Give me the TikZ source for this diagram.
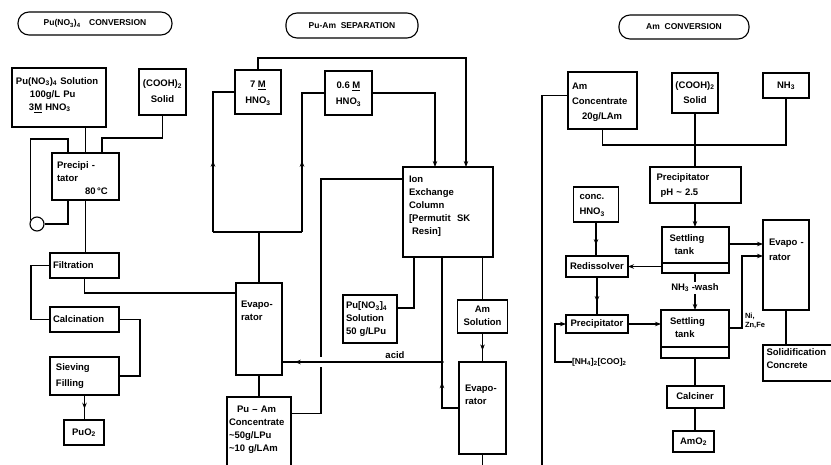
\documentclass[tikz,border=0pt]{standalone}
\usepackage{fontspec}
\setmainfont{Liberation Sans}
\usetikzlibrary{arrows.meta,decorations.markings,calc}
\newcommand{\ctxt}[2][0pt]{\raisebox{#1}[0pt][0pt]{\begin{tabular}[c]{@{}c@{}}#2\end{tabular}}}
\newcommand{\ltxt}[2][0pt]{\noindent\raisebox{#1}[0pt][0pt]{\begin{tabular}[c]{@{}l@{}}#2\end{tabular}}}
\tikzset{
 base/.style={font=\fontsize{9.5}{13}\selectfont\bfseries, inner sep=0pt, outer sep=0pt},
 bx/.style={base, draw, line width=1.1pt, rectangle},
 tbx/.style={base, draw, line width=2pt, rectangle},
 ln/.style={line width=1.05pt},
 arr/.style={ln, -{Stealth[length=6pt,width=4.5pt]}},
 marr/.style={ln, postaction={decorate}, decoration={markings, mark=at position #1 with {\arrow{Stealth[length=6pt,width=4.5pt]}}}},
 hdr/.style={draw, line width=1.1pt, rounded corners=11pt, inner sep=0pt, font=\fontsize{8.5}{10}\selectfont\bfseries},
}
\begin{document}
\begin{tikzpicture}[x=1pt,y=-1pt]
\useasboundingbox (0,0) rectangle (831,464);
\clip (0,0) rectangle (831,464);
% headers
\node[hdr, minimum width=154, minimum height=23] (hA) at (95,23.5) {Pu(NO\textsubscript{3})\textsubscript{4}\quad CONVERSION};
\node[hdr, minimum width=132, minimum height=25] (hB) at (352,25.5) {Pu-Am\ \ SEPARATION};
\node[hdr, minimum width=130, minimum height=24] (hC) at (684,27) {Am\ \ CONVERSION};
% left column
\node[bx, minimum width=94, minimum height=59, text width=86, align=left] (puS) at (59,97.5) {\ltxt[0.5pt]{Pu(NO\textsubscript{3})\textsubscript{4} Solution\\\hspace*{14pt}100g/L Pu\\\hspace*{13pt}3\underline{M} HNO\textsubscript{3}}};
\node[bx, minimum width=47, minimum height=46] (cooh1) at (162.5,92) {\ctxt[-2.5pt]{(COOH)\textsubscript{2}\\[3pt]Solid}};
\node[tbx, minimum width=67, minimum height=47, text width=57, align=left] (prec1) at (85.5,176.5) {\ltxt[-5pt]{Precipi -\\tator\\\hspace*{28pt}80\,°C}};
\node[draw, line width=1.1pt, circle, minimum size=14, inner sep=0pt] (pump) at (37,224) {};
\node[tbx, minimum width=69, minimum height=25, text width=63, align=left] (filt) at (84.5,265.5) {\ltxt[-2.5pt]{Filtration}};
\node[tbx, minimum width=69, minimum height=25, text width=63, align=left] (calc) at (84.5,319.5) {\ltxt[-2.5pt]{Calcination}};
\node[tbx, minimum width=69, minimum height=38, text width=57, align=left] (siev) at (84.5,376) {\ltxt[-2.5pt]{Sieving\\[3pt]Filling}};
\node[bx, minimum width=40, minimum height=25] (puo2) at (84,432.5) {\ctxt[-2.5pt]{PuO\textsubscript{2}}};
% middle column
\node[bx, minimum width=46, minimum height=44] (m7) at (258,92) {\ctxt[-3.5pt]{7 \underline{M}\\[3pt]HNO\textsubscript{3}}};
\node[bx, minimum width=47, minimum height=44] (m06) at (348.5,93) {\ctxt[-3.5pt]{0.6 \underline{M}\\[3pt]HNO\textsubscript{3}}};
\node[tbx, minimum width=46, minimum height=92, text width=36, align=left] (evap1) at (259,329) {\ltxt[15.5pt]{Evapo-\\rator}};
\node[bx, minimum width=64, minimum height=69, text width=60, align=left] (puam) at (259,431.5) {\ltxt[0pt]{\hspace*{8pt}Pu – Am\\Concentrate\\\textasciitilde 50g/LPu\\\textasciitilde 10 g/LAm}};
\node[tbx, minimum width=90, minimum height=90, text width=78, align=left] (ion) at (448,212) {\ltxt[3.5pt]{Ion\\Exchange\\Column\\{[}Permutit\ \ SK\\\hspace*{3pt}Resin]}};
\node[bx, minimum width=54, minimum height=48, text width=48, align=left] (pun) at (370,319) {\ltxt[-2.5pt]{Pu[NO\textsubscript{3}]\textsubscript{4}\\Solution\\50 g/LPu}};
\node[bx, minimum width=50, minimum height=33] (amsol) at (482.5,316.5) {\ctxt[-2.5pt]{Am\\Solution}};
\node[tbx, minimum width=47, minimum height=92, text width=35, align=left] (evap2) at (482.5,408) {\ltxt[10.5pt]{Evapo-\\rator}};
% right column
\node[bx, minimum width=69, minimum height=57, text width=61, align=left] (amc) at (602.5,100.5) {\ltxt[-4pt]{Am\\[2pt]Concentrate\\[2pt]\hspace*{10pt}20g/LAm}};
\node[bx, minimum width=46, minimum height=40] (cooh2) at (695,93) {\ctxt[-2.5pt]{(COOH)\textsubscript{2}\\[2pt]Solid}};
\node[bx, minimum width=46, minimum height=25] (nh3) at (786,85.5) {\ctxt[-2.5pt]{NH\textsubscript{3}}};
\node[tbx, minimum width=91, minimum height=36, text width=77, align=left] (precA) at (695,185) {\ltxt[-2.5pt]{Precipitator\\[2pt]\hspace*{4pt}pH \textasciitilde\ 2.5}};
\node[tbx, minimum width=67, minimum height=46, text width=51, align=left] (set1) at (695,250) {\ltxt[2pt]{Settling\\\hspace*{5pt}tank}};
\node[bx, minimum width=45, minimum height=35, text width=33, align=left] (conc) at (596,204.5) {\ltxt[-2.5pt]{conc.\\[2pt]HNO\textsubscript{3}}};
\node[tbx, minimum width=62, minimum height=21] (redis) at (597,266.5) {\ctxt[-2.5pt]{Redissolver}};
\node[tbx, minimum width=46, minimum height=90, text width=34, align=left] (evap3) at (786,265) {\ltxt[12.5pt]{Evapo -\\[2pt]rator}};
\node[tbx, minimum width=62, minimum height=18] (precB) at (597,324) {\ctxt[-2.5pt]{Precipitator}};
\node[tbx, minimum width=68, minimum height=48, text width=50, align=left] (set2) at (695,334) {\ltxt[3pt]{Settling\\\hspace*{5pt}tank}};
\node[tbx, minimum width=57, minimum height=22] (calcr) at (695,397) {\ctxt[-2.5pt]{Calciner}};
\node[bx, minimum width=41, minimum height=21] (amo2) at (693.5,441.5) {\ctxt[-2.5pt]{AmO\textsubscript{2}}};
\node[bx, minimum width=77, minimum height=36, text width=70, align=left] (solid) at (801.5,363) {\ltxt[1.5pt]{Solidification\\Concrete}};
% labels
\node[base] (acid) at (395,355) {acid};
\node[base, font=\fontsize{7.5}{9}\selectfont\bfseries, anchor=west, align=left] (nizn) at (745,321) {Ni,\\Zn,Fe};
\node[base, font=\fontsize{8.5}{10}\selectfont\bfseries, anchor=west] (nh4) at (572,362) {[NH\textsubscript{4}]\textsubscript{2}[COO]\textsubscript{2}};
% coordinates
\coordinate (sp) at ([yshift=51]evap1.north);
\coordinate (sl) at ($(sp)+(-46,0)$);
\coordinate (sr) at ($(sp)+(43,0)$);
\coordinate (tl) at ([yshift=12]m7.north);
\coordinate (xv) at (321,300);
\coordinate (jx) at ([xshift=-6]ion.south);
\coordinate (junc) at (jx |- evap2.north);
\coordinate (cr) at (xv |- junc);
\coordinate (offA) at (542,470);
\coordinate (mrg) at ([yshift=22]precA.north);
\coordinate (s1e) at ([yshift=6]set1.east);
% left connectors
\draw[ln] (prec1.north |- puS.south) -- (prec1.north);
\draw[ln] (cooh1.south) -- ++(0,23) -| ([xshift=16.5]prec1.north);
\draw[ln] ([xshift=-17.5]prec1.north) -- ++(0,-14) -| (pump.150);
\draw[ln] (pump.east) -| ([xshift=-17.5]prec1.south);
\draw[ln] (prec1.south) -- (prec1.south |- filt.north);
\draw[ln] (filt.west) -- ++(-19,0) |- (calc.west);
\draw[ln] (calc.east) -- ++(21,0) |- (siev.east);
\draw[marr=0.55] (siev.south) -- (siev.south |- puo2.north);
\draw[ln] (filt.south) |- ([yshift=36]evap1.west);
% middle connectors
\draw[ln] (evap1.north) -- (sp);
\draw[ln] (sl) -- (sr);
\draw[marr=0.44] (sl) |- (m7.west);
\draw[marr=0.44] (sr) |- (m06.west);
\draw[arr] (m7.north) -- (tl) -| ([xshift=18]ion.north);
\draw[arr] (m06.east) -| ([xshift=-13]ion.north);
\draw[ln] ([yshift=18]puam.east) -| (xv) |- ([yshift=33]ion.west);
\draw[ln] (evap1.south) -- (evap1.south |- puam.north);
\draw[ln] ([xshift=-34]ion.south) |- ([yshift=11]pun.east);
\draw[ln] (jx) -- (junc);
\draw[marr=0.68] (evap2.west) -| (junc);
\draw[white, line width=6pt] ([yshift=5]cr) -- ([yshift=-5]cr);
\draw[marr=0.92] (junc) -- (junc -| evap1.east);
\fill (junc) circle[radius=1.8pt];
\draw[ln] (amsol.north |- ion.south) -- (amsol.north);
\draw[marr=0.6] (amsol.south) -- (evap2.north);
\draw[ln] (evap2.south) -- ++(0,15);
% right connectors
\draw[ln] ([yshift=5]amc.west) -| (offA);
\draw[ln] (amc.south) |- (mrg) -| (nh3.south);
\draw[ln] (cooh2.south) -- (precA.north);
\fill (mrg) circle[radius=1.8pt];
\draw[arr] (precA.south) -- (set1.north);
\draw[marr=0.68] (conc.south) -- (conc.south |- redis.north);
\draw[arr] (redis.east -| set1.west) -- (redis.east);
\draw[arr] (s1e) -- (s1e -| evap3.west);
\draw[arr] (set1.south) -- node[base, pos=0.4, fill=white, inner sep=1.5pt] (nh3w) {NH\textsubscript{3} -wash} (set2.north);
\draw[marr=0.66] (redis.south) -- (redis.south |- precB.north);
\draw[arr] (precB.east) -- (precB.east -| set2.west);
\draw[arr] (nh4.west) -- ++(-17,0) |- (precB.west);
\draw[arr] ([yshift=6]set2.east) -- ++(13,0) |- ([yshift=9]evap3.west);
\draw[ln] (evap3.south) -- (evap3.south |- solid.north);
\draw[ln] (set2.south) -- (calcr.north);
\draw[ln] (calcr.south) -- (calcr.south |- amo2.north);
% tank inner lines
\draw[line width=1.2pt] ([yshift=10]set1.south west) -- ([yshift=10]set1.south east);
\draw[line width=1.2pt] ([yshift=11]set2.south west) -- ([yshift=11]set2.south east);
\end{tikzpicture}
\end{document}
